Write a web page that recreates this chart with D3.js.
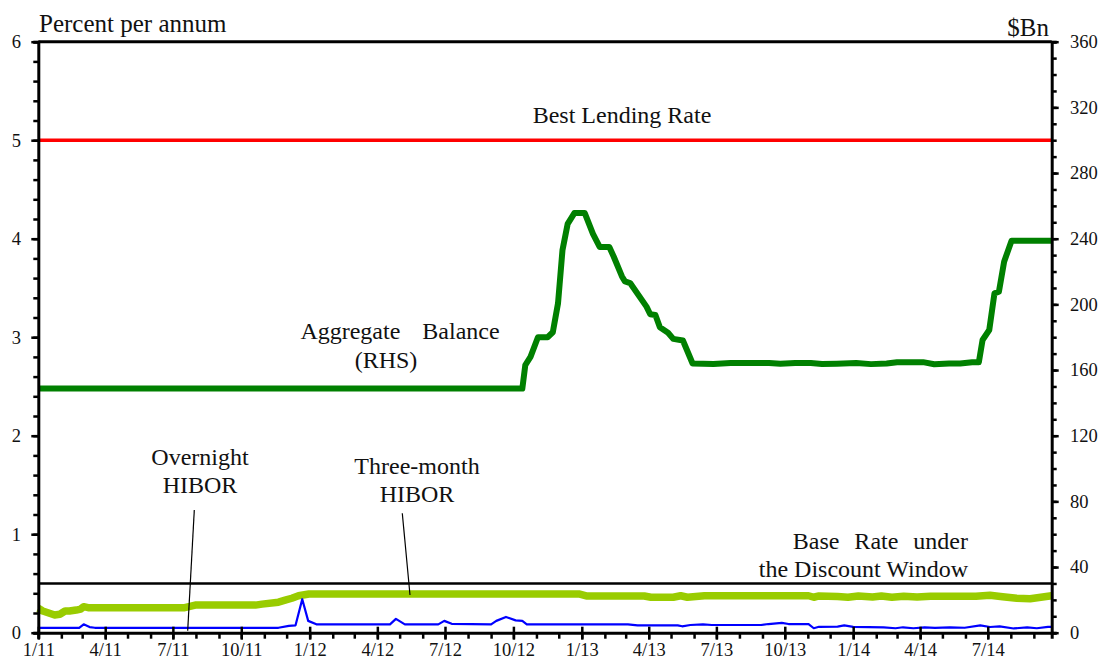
<!DOCTYPE html>
<html>
<head>
<meta charset="utf-8">
<script src="https://cdn.jsdelivr.net/npm/d3@7"></script>
<style>
  html, body { margin: 0; padding: 0; background: #fff; }
  svg { display: block; }
  text { font-family: "Liberation Serif", "Times New Roman", serif; fill: #111; }
</style>
</head>
<body>
<svg id="chart" width="1102" height="660"></svg>
<script>
// ---------------- DATA ----------------
const leftTicks = [0, 1, 2, 3, 4, 5, 6];
const rightTicks = [0, 40, 80, 120, 160, 200, 240, 280, 320, 360];
const xTickLabels = ["1/11","4/11","7/11","10/11","1/12","4/12","7/12","10/12","1/13","4/13","7/13","10/13","1/14","4/14","7/14"];

const bestLendingRate = 5.0;
const baseRate = 0.5;

// Aggregate Balance ($Bn, RHS)
const aggDates = ["2011-01-01","2012-10-13","2012-10-17","2012-10-24","2012-11-03","2012-11-16","2012-11-23","2012-11-30","2012-12-06","2012-12-13","2012-12-22","2013-01-05","2013-01-16","2013-01-25","2013-02-07","2013-02-13","2013-02-24","2013-02-28","2013-03-07","2013-03-29","2013-04-03","2013-04-10","2013-04-16","2013-04-27","2013-05-04","2013-05-17","2013-05-30","2013-06-27","2013-07-20","2013-08-15","2013-09-10","2013-09-25","2013-10-15","2013-11-05","2013-11-20","2013-12-10","2014-01-05","2014-01-25","2014-02-15","2014-03-01","2014-03-15","2014-04-05","2014-04-20","2014-05-10","2014-05-25","2014-06-10","2014-06-19","2014-06-24","2014-07-03","2014-07-10","2014-07-16","2014-07-23","2014-08-02","2014-09-25"];
const aggValues = [148.7,148.7,163,168,180,180,183,200.6,233,249,255.6,255.6,243,235,235,229,217,214,213,198.6,194,193.5,186,182.7,179,178,164,163.7,164.3,164.3,164.3,163.8,164.3,164.3,163.7,163.9,164.3,163.6,164,164.8,164.8,164.8,163.5,164,164,164.8,164.8,178.3,184.4,206.7,207.7,226,238.8,238.8];

// Three-month HIBOR (% p.a.)
const tmDates = ["2011-01-01","2011-01-07","2011-01-23","2011-01-30","2011-02-06","2011-02-12","2011-02-21","2011-02-27","2011-03-03","2011-03-09","2011-07-17","2011-07-31","2011-10-20","2011-10-29","2011-11-20","2011-11-29","2011-12-08","2011-12-17","2011-12-31","2012-12-28","2013-01-07","2013-03-26","2013-04-04","2013-05-04","2013-05-14","2013-05-23","2013-06-15","2013-11-02","2013-11-09","2013-11-16","2013-12-11","2013-12-25","2014-01-08","2014-01-27","2014-02-08","2014-02-22","2014-03-10","2014-03-28","2014-04-15","2014-05-05","2014-05-25","2014-06-15","2014-07-04","2014-07-21","2014-08-09","2014-08-27","2014-09-20","2014-09-25"];
const tmValues = [0.248,0.22,0.18,0.187,0.22,0.22,0.23,0.24,0.264,0.254,0.254,0.28,0.28,0.29,0.31,0.33,0.35,0.375,0.393,0.393,0.373,0.373,0.36,0.36,0.375,0.36,0.375,0.375,0.36,0.373,0.368,0.36,0.373,0.362,0.373,0.36,0.37,0.362,0.37,0.37,0.37,0.37,0.38,0.365,0.35,0.345,0.37,0.375];

// Overnight HIBOR (% p.a.)
const onDates = ["2011-01-01","2011-02-25","2011-03-03","2011-03-11","2011-03-18","2011-11-20","2011-12-04","2011-12-13","2011-12-22","2011-12-30","2012-01-10","2012-04-18","2012-04-26","2012-05-08","2012-06-22","2012-06-30","2012-07-10","2012-09-01","2012-09-08","2012-09-21","2012-10-04","2012-10-13","2012-10-19","2013-03-04","2013-03-17","2013-05-10","2013-05-16","2013-05-27","2013-06-13","2013-06-25","2013-08-30","2013-09-09","2013-09-27","2013-10-06","2013-11-02","2013-11-09","2013-11-16","2013-12-11","2013-12-20","2014-01-01","2014-02-11","2014-02-27","2014-03-09","2014-03-23","2014-04-07","2014-04-21","2014-05-11","2014-05-31","2014-06-21","2014-07-04","2014-07-17","2014-08-05","2014-08-23","2014-09-05","2014-09-20","2014-09-25"];
const onValues = [0.05,0.05,0.085,0.057,0.05,0.05,0.07,0.075,0.34,0.12,0.085,0.085,0.14,0.085,0.085,0.12,0.09,0.085,0.12,0.16,0.125,0.12,0.085,0.085,0.075,0.075,0.065,0.078,0.085,0.078,0.078,0.088,0.1,0.088,0.088,0.045,0.06,0.062,0.075,0.06,0.055,0.045,0.055,0.045,0.055,0.048,0.055,0.05,0.075,0.058,0.065,0.043,0.055,0.045,0.06,0.06];

// ---------------- CHART ----------------
const parse = d3.timeParse("%Y-%m-%d");
const svg = d3.select("#chart");
const plotLeft = 38.3, plotRight = 1051.7, plotTop = 41.7, plotBottom = 632.7;

const x = d3.scaleTime().domain([parse("2011-01-01"), parse("2014-09-25")]).range([plotLeft, plotRight]);
const yL = d3.scaleLinear().domain([0, 6]).range([plotBottom, plotTop]);
const yR = d3.scaleLinear().domain([0, 360]).range([plotBottom, plotTop]);

const zip = (ds, vs) => ds.map((d, i) => ({ date: parse(d), v: vs[i] }));
const aggData = zip(aggDates, aggValues);
const tmData = zip(tmDates, tmValues);
const onData = zip(onDates, onValues);

const lineL = d3.line().x(d => x(d.date)).y(d => yL(d.v));
const lineR = d3.line().x(d => x(d.date)).y(d => yR(d.v));

// Horizontal reference lines
svg.append("line")
  .attr("x1", x.range()[0]).attr("x2", x.range()[1])
  .attr("y1", yL(bestLendingRate)).attr("y2", yL(bestLendingRate))
  .attr("stroke", "#ff0000").attr("stroke-width", 3.5);
svg.append("line")
  .attr("x1", x.range()[0]).attr("x2", x.range()[1])
  .attr("y1", yL(baseRate)).attr("y2", yL(baseRate))
  .attr("stroke", "#000").attr("stroke-width", 2.5);

// Series
svg.append("path").datum(tmData).attr("d", lineL)
  .attr("fill", "none").attr("stroke", "#99cc00").attr("stroke-width", 7.5)
  .attr("stroke-linejoin", "round");
svg.append("path").datum(onData).attr("d", lineL)
  .attr("fill", "none").attr("stroke", "#0000ff").attr("stroke-width", 2.2)
  .attr("stroke-linejoin", "round");
svg.append("path").datum(aggData).attr("d", lineR)
  .attr("fill", "none").attr("stroke", "#008000").attr("stroke-width", 6)
  .attr("stroke-linejoin", "round");

// Top frame line
svg.append("line").attr("x1", plotLeft).attr("x2", plotRight).attr("y1", plotTop).attr("y2", plotTop)
  .attr("stroke", "#000").attr("stroke-width", 3);

// Left axis
const gL = svg.append("g").attr("transform", `translate(${plotLeft},0)`);
gL.call(d3.axisLeft(yL).tickValues(d3.range(0, 30.5, 1).map(i => i * 0.2)).tickSize(5).tickFormat(""));
gL.selectAll(".tick line").attr("stroke-width", 2.5);
const gL2 = svg.append("g").attr("transform", `translate(${plotLeft},0)`);
gL2.call(d3.axisLeft(yL).tickValues(leftTicks).tickSize(7).tickPadding(10.3).tickFormat(d3.format("d")));
gL2.select(".domain").remove();
gL2.selectAll(".tick line").attr("stroke-width", 2.5);

// Right axis
const gR = svg.append("g").attr("transform", `translate(${plotRight},0)`);
gR.call(d3.axisRight(yR).tickValues(d3.range(0, 361, 10)).tickSize(5).tickFormat(""));
gR.selectAll(".tick line").attr("stroke-width", 2.5);
const gR2 = svg.append("g").attr("transform", `translate(${plotRight},0)`);
gR2.call(d3.axisRight(yR).tickValues(rightTicks).tickSize(7).tickPadding(11.3).tickFormat(d3.format("d")));
gR2.select(".domain").remove();
gR2.selectAll(".tick line").attr("stroke-width", 2.5);

// Bottom axis
const months = d3.timeMonth.range(parse("2011-01-01"), parse("2014-09-26"));
const quarters = months.filter(d => d.getMonth() % 3 === 0);
const gB = svg.append("g").attr("transform", `translate(0,${plotBottom})`);
gB.call(d3.axisBottom(x).tickValues(months).tickSize(6).tickFormat(""));
gB.selectAll(".tick line").attr("stroke-width", 2.5);
const gB2 = svg.append("g").attr("transform", `translate(0,${plotBottom})`);
gB2.call(d3.axisBottom(x).tickValues(quarters).tickSize(7).tickPadding(3.5).tickFormat((d, i) => xTickLabels[i]));
gB2.select(".domain").remove();
gB2.selectAll(".tick line").attr("y1", -6).attr("stroke-width", 2.5);

svg.selectAll(".domain").attr("stroke-width", 3).attr("stroke", "#000");
svg.selectAll(".tick line").attr("stroke", "#000");
svg.selectAll(".tick text").style("font-size", "18.5px").style("font-family", "'Liberation Serif', 'Times New Roman', serif").attr("fill", "#111");

// Axis titles
svg.append("text").attr("x", 39).attr("y", 32).style("font-size", "25px").text("Percent per annum");
svg.append("text").attr("x", 1049).attr("y", 36).attr("text-anchor", "end").style("font-size", "25px").text("$Bn");

// Annotations
const fs = "24px";
function label(lines, xx, y0, anchor, dy, ws) {
  lines.forEach((t, i) => {
    svg.append("text").attr("x", xx).attr("y", y0 + i * dy).attr("text-anchor", anchor)
      .style("font-size", fs).style("word-spacing", (ws && ws[i] ? ws[i] : 0) + "px").text(t);
  });
}
label(["Best Lending Rate"], 622, 123, "middle", 0);
label(["Aggregate Balance"], 400, 339, "middle", 0, [16]);
label(["(RHS)"], 386, 368, "middle", 0);
label(["Overnight", "HIBOR"], 200, 465, "middle", 28.3);
label(["Three-month", "HIBOR"], 417, 474.3, "middle", 28);
label(["Base Rate under", "the Discount Window"], 968, 549, "end", 27.7, [9, 0]);

// Leader lines
svg.append("line").attr("x1", 194.3).attr("y1", 510).attr("x2", 187.7).attr("y2", 630.7)
  .attr("stroke", "#000").attr("stroke-width", 1.2);
svg.append("line").attr("x1", 402.3).attr("y1", 513.3).attr("x2", 410).attr("y2", 595)
  .attr("stroke", "#000").attr("stroke-width", 1.2);
</script>
</body>
</html>
